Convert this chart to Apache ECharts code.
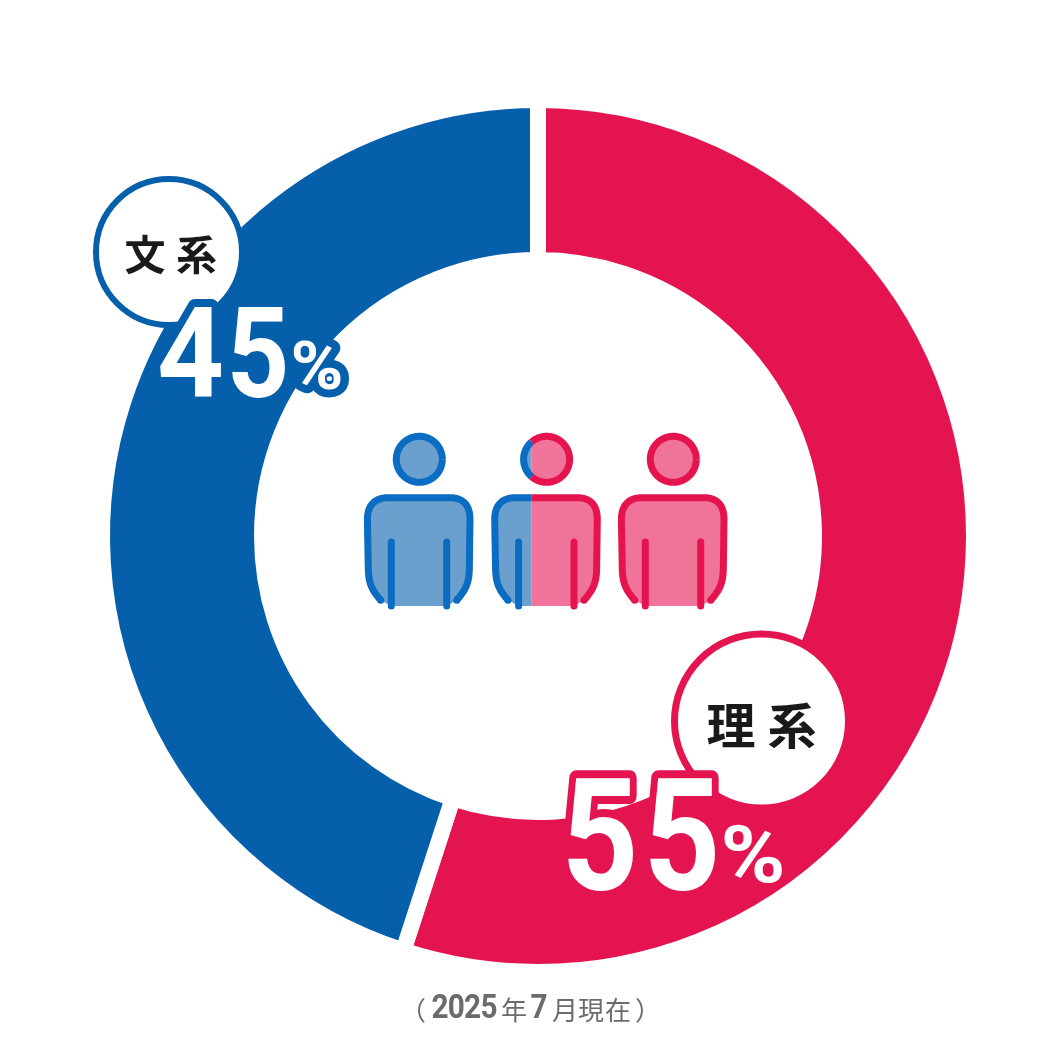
<!DOCTYPE html>
<html><head><meta charset="utf-8">
<style>html,body{margin:0;background:#fff}#c{width:1060px;height:1060px}</style>
<script src="https://cdn.jsdelivr.net/npm/echarts@6/dist/echarts.min.js"></script>
</head><body><div id="c"></div>
<script>
const categories = ['理系', '文系'];
const values = [55, 45];
const note = '（2025年7月現在）';

// text outlines use round joins, like the reference's rounded halo
const _st=CanvasRenderingContext2D.prototype.strokeText;
CanvasRenderingContext2D.prototype.strokeText=function(){this.lineJoin='round';return _st.apply(this,arguments);};

const BLUE='#065fab', PINK='#e41450', LB='#0a6cc3', LP='#e5144f', FB='#6a9fce', FP='#f07399';
const CJK='"Noto Sans CJK JP","Noto Sans CJK SC",sans-serif';
const g=[];
function txt(s,x,y,size,fill,opt){opt=opt||{};
  g.push({type:'text',x:x,y:y,scaleX:opt.sx||1,z:opt.z||10,style:{text:s,align:'center',verticalAlign:'middle',
    font:(opt.w||'normal')+' '+size+'px '+(opt.f||CJK),fill:fill,stroke:opt.stroke||null,lineWidth:opt.lw||0}});
}
function outlined(s,x,y,size,col,sx){
  txt(s,x,y,size,col,{f:'Roboto',w:'bold',sx:sx,stroke:col,lw:16,z:6});
  txt(s,x,y,size,'#fff',{f:'Roboto',w:'bold',sx:sx,z:7});
}
function badge(x,y,r,lw,col){g.push({type:'circle',z:4,shape:{cx:x,cy:y,r:r},style:{fill:'#fff',stroke:col,lineWidth:lw}});}

// callouts
badge(169,252,73,6,BLUE);
badge(761.5,721,87,7,PINK);
txt(categories[1][0],145,254,41,'#1a1a1a',{w:'bold'});
txt(categories[1][1],196.5,254,41,'#1a1a1a',{w:'bold'});
txt(categories[0][0],731,725,49,'#1a1a1a',{w:'bold'});
txt(categories[0][1],792,725,49,'#1a1a1a',{w:'bold'});
const v1=String(values[1]), v0=String(values[0]);
outlined(v1[0],190.5,365,127,BLUE,.92); outlined(v1[1],258,365,127,BLUE,.86); outlined('%',317,372,67,BLUE,1.07);
outlined(v0[0],600,850,156,PINK,.86); outlined(v0[1],682,850,156,PINK,.86); outlined('%',753,862,80,PINK,1.1);

// footnote pieces
const GR='#6b6b6b';
const yN=1010;
txt(note[0],413,yN,26,GR);
[...note.slice(1,5)].forEach((c,i)=>txt(c,440+i*16.3,yN,33,GR,{f:'Roboto',w:'bold',sx:.9}));
txt(note[5],514,yN,26,GR);
txt(note[6],539,yN,33,GR,{f:'Roboto',w:'bold',sx:.9});
txt(note[7],565,yN,26,GR); txt(note[8],591,yN,26,GR); txt(note[9],618,yN,26,GR);
txt(note[10],648,yN,26,GR);

// people icons (template geometry sampled from curves)
function bez(p0,p1,p2,p3,n){const o=[];for(let i=1;i<=n;i++){const t=i/n,u=1-t;
  o.push([u*u*u*p0[0]+3*u*u*t*p1[0]+3*u*t*t*p2[0]+t*t*t*p3[0],u*u*u*p0[1]+3*u*u*t*p1[1]+3*u*t*t*p2[1]+t*t*t*p3[1]]);}return o;}
function line(a,b,n){const o=[];for(let i=1;i<=n;i++){const t=i/n;o.push([a[0]+(b[0]-a[0])*t,a[1]+(b[1]-a[1])*t]);}return o;}
const A=[380.7,600.3],B=[368.3,570],C=[367.4,520],D=[388,497.7],E=[450,497.7],F=[470,520],G=[469.3,570],H=[456.7,600.3];
const bodyPts=[A].concat(bez(A,[372,590],[368.8,584],B,12),line(B,C,6),bez(C,[367.2,505],[375,497.7],D,14),line(D,E,20),
  bez(E,[463,497.7],[470.2,505],F,14),line(F,G,6),bez(G,[468.8,584],[465.5,590],H,12));
const fillPts=bodyPts.concat([[446.7,606],[391.3,606]]);
const HEAD={x:419.3,y:459.3,r:23};
const headPts=[];for(let i=0;i<=120;i++){const a=i/120*Math.PI*2;headPts.push([HEAD.x+HEAD.r*Math.cos(a),HEAD.y+HEAD.r*Math.sin(a)]);}
const ARMS=[391.3,446.7], ARM_T=542, ARM_B=606;

function shift(pts,dx){return pts.map(p=>[p[0]+dx,p[1]]);}
function clipPoly(pts,x,keepLeft){const o=[];const ins=p=>keepLeft?p[0]<=x:p[0]>=x;
  for(let i=0;i<pts.length;i++){const a=pts[i],b=pts[(i+1)%pts.length];
    if(ins(a))o.push(a);
    if(ins(a)!==ins(b)){const t=(x-a[0])/(b[0]-a[0]);o.push([x,a[1]+(b[1]-a[1])*t]);}}
  return o;}
function clipLine(pts,x,keepLeft,closed){const segs=[];let cur=[];const ins=p=>keepLeft?p[0]<=x:p[0]>=x;
  for(let i=0;i<pts.length;i++){const a=pts[i];
    if(ins(a))cur.push(a);
    if(i<pts.length-1){const b=pts[i+1];
      if(ins(a)!==ins(b)){const t=(x-a[0])/(b[0]-a[0]),m=[x,a[1]+(b[1]-a[1])*t];
        cur.push(m);if(ins(a)){segs.push(cur);cur=[];}}}
  }
  if(cur.length>1)segs.push(cur);
  if(closed&&segs.length>1&&ins(pts[0])){const last=segs.pop();segs[0]=last.concat(segs[0]);}
  return segs;}
const LW=7;
function poly(pts,fill){g.push({type:'polygon',z:2,shape:{points:pts},style:{fill:fill}});}
function pl(pts,col,cap){g.push({type:'polyline',z:3,shape:{points:pts},style:{fill:null,stroke:col,lineWidth:LW,lineCap:cap||'butt',lineJoin:'round'}});}
function dot(p,col){g.push({type:'circle',z:3,shape:{cx:p[0],cy:p[1],r:LW/2},style:{fill:col}});}
function person(dx,split){
  const parts=split==null?[[dx<100?LB:LP,dx<100?FB:FP,null]]:[[LB,FB,true],[LP,FP,false]];
  parts.forEach(([ln,fl,left])=>{
    const fp=shift(fillPts,dx), hp=shift(headPts,dx), bp=shift(bodyPts,dx);
    if(left==null){poly(fp,fl);poly(hp,fl);pl(hp,ln);pl(bp,ln);}
    else{
      poly(clipPoly(fp,split,left),fl);poly(clipPoly(hp,split,left),fl);
      clipLine(hp,split,left,true).forEach(s=>pl(s,ln));
      clipLine(bp,split,left,false).forEach(s=>pl(s,ln));
    }
    const endP=left==null?[bp[0],bp[bp.length-1]]:(left?[bp[0]]:[bp[bp.length-1]]);
    endP.forEach(p=>dot(p,ln));
  });
  ARMS.forEach((ax,i)=>{const x=ax+dx;const col=split==null?(dx<100?LB:LP):(x<split?LB:LP);
    pl([[x,ARM_T],[x,ARM_B]],col,'round');});
}
person(0,null);
person(127.3,531.7);
person(254,null);

const chart=echarts.init(document.getElementById('c'),null,{renderer:'canvas'});
chart.setOption({
  animation:false,
  series:[{type:'pie',center:[538,536],radius:[276,436],startAngle:90,clockwise:true,silent:true,
    label:{show:false},labelLine:{show:false},
    itemStyle:{borderColor:'#fff',borderWidth:16},
    data:categories.map((c,i)=>({name:c,value:values[i],itemStyle:{color:[PINK,BLUE][i]}}))}],
  graphic:{elements:g}
});
</script></body></html>
